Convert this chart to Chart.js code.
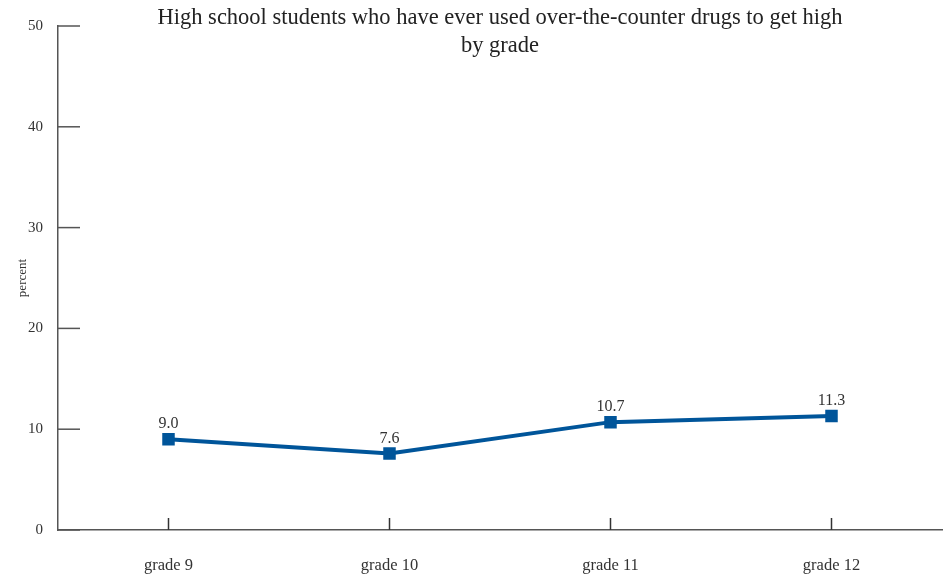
<!DOCTYPE html>
<html>
<head>
<meta charset="utf-8">
<script src="https://cdn.jsdelivr.net/npm/chart.js@4"></script>
<style>
  html, body { margin: 0; padding: 0; background: #fff; }
  #wrap { width: 948px; height: 576px; position: relative; }
</style>
</head>
<body>
<div id="wrap"><canvas id="lineChart"></canvas></div>
<script>
// data
const grades = ['grade 9', 'grade 10', 'grade 11', 'grade 12'];
const percentUsed = [9.0, 7.6, 10.7, 11.3];
const yTicks = [0, 10, 20, 30, 40, 50];
const titleLines = ['High school students who have ever used over-the-counter drugs to get high', 'by grade'];

const serif = "'Liberation Serif', 'DejaVu Serif', serif";
const axisGray = '#555';
const lineBlue = '#00559a';

// short inward tick marks, value labels and the title
const extrasPlugin = {
  id: 'extras',
  afterDraw(chart) {
    const ctx = chart.ctx;
    const area = chart.chartArea;
    const xs = chart.scales.x;
    const ys = chart.scales.y;
    ctx.save();
    ctx.strokeStyle = axisGray;
    ctx.lineWidth = 1.5;
    yTicks.forEach(v => {
      const y = ys.getPixelForValue(v);
      ctx.beginPath();
      ctx.moveTo(area.left, y);
      ctx.lineTo(area.left + 22, y);
      ctx.stroke();
    });
    ctx.strokeStyle = '#333';
    grades.forEach((g, i) => {
      const x = xs.getPixelForValue(i);
      ctx.beginPath();
      ctx.moveTo(x, area.bottom);
      ctx.lineTo(x, area.bottom - 12);
      ctx.stroke();
    });

    // value labels
    ctx.fillStyle = '#333';
    ctx.font = '16px ' + serif;
    ctx.textAlign = 'center';
    ctx.textBaseline = 'bottom';
    const meta = chart.getDatasetMeta(0);
    meta.data.forEach((pt, i) => {
      ctx.fillText(percentUsed[i].toFixed(1), pt.x, pt.y - 7);
    });

    // title
    ctx.font = '22.5px ' + serif;
    ctx.fillStyle = '#222';
    ctx.textBaseline = 'middle';
    const cx = (area.left + area.right) / 2;
    ctx.fillText(titleLines[0], cx, 18);
    ctx.fillText(titleLines[1], cx, 46);
    ctx.restore();
  }
};

const chartCanvas = document.getElementById('lineChart');
new Chart(chartCanvas, {
  type: 'line',
  data: {
    labels: grades,
    datasets: [{
      label: 'percent',
      data: percentUsed,
      borderColor: lineBlue,
      backgroundColor: lineBlue,
      borderWidth: 4,
      pointStyle: 'rect',
      pointRadius: 6,
      pointHoverRadius: 6,
      tension: 0,
      fill: false,
    }],
  },
  options: {
    responsive: true,
    maintainAspectRatio: false,
    animation: false,
    layout: { autoPadding: false, padding: { top: 26, right: 6, left: 0, bottom: 0 } },
    plugins: {
      legend: { display: false },
      title: { display: false },
      tooltip: { enabled: false },
    },
    scales: {
      x: {
        offset: true,
        grid: { display: false, drawTicks: false },
        border: { display: true, color: axisGray, width: 1.5 },
        ticks: {
          padding: 26,
          color: '#333',
          font: { family: serif, size: 16.5 },
        },
        afterFit(scale) { scale.height = 46; },
      },
      y: {
        min: 0,
        max: 50,
        grid: { display: false, drawTicks: false },
        border: { display: true, color: axisGray, width: 1.5 },
        afterBuildTicks(scale) { scale.ticks = yTicks.map(v => ({ value: v })); },
        ticks: {
          padding: 15,
          color: '#333',
          font: { family: serif, size: 15 },
        },
        title: {
          display: true,
          text: 'percent',
          color: '#333',
          font: { family: serif, size: 13 },
          padding: { top: 15, bottom: 0 },
        },
        afterFit(scale) { scale.width = 58; },
      },
    },
  },
  plugins: [extrasPlugin],
});
</script>
</body>
</html>
